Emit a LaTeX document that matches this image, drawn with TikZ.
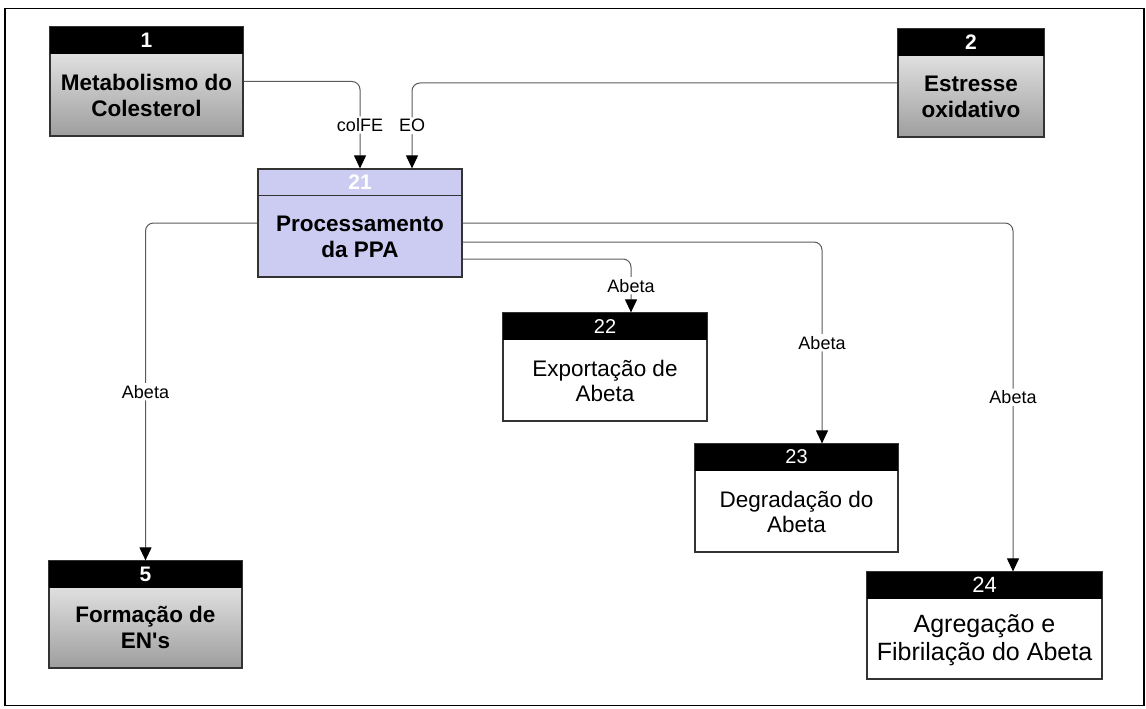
\documentclass[tikz,border=0pt]{standalone}
\usepackage{fontspec}
\setmainfont{Liberation Sans}
\usetikzlibrary{positioning,arrows.meta}

\definecolor{ppablue}{RGB}{204,204,242}
\definecolor{ppagrid}{RGB}{178,178,236}
\definecolor{linegray}{RGB}{90,90,90}

\tikzset{
  box/.style={draw=black!80, line width=1.2pt, inner sep=0pt},
  graybox/.style={box, top color=black!4, bottom color=black!38},
  whitebox/.style={box, fill=white},
  hdr/.style={anchor=north, fill=black, text=white, inner sep=0pt, minimum height=27pt,
    font=\fontsize{20}{20}\selectfont},
  hdrbold/.style={hdr, font=\fontsize{21}{21}\selectfont\bfseries},
  bodybold/.style={align=center, font=\fontsize{22.5}{26}\selectfont\bfseries},
  bodyreg/.style={align=center, font=\fontsize{22.5}{25}\selectfont},
  flow/.style={draw=linegray, line width=1pt, rounded corners=8pt,
    -{Triangle[length=13pt,width=12pt,color=black]}},
  tag/.style={fill=white, inner sep=2pt, pos=0.75, font=\fontsize{18}{18}\selectfont},
}

\begin{document}
\begin{tikzpicture}[x=1pt,y=-1pt]
  \useasboundingbox (0,0) rectangle (1146,709);
  \draw[line width=1.6pt] (5,8.5) rectangle (1144,705.5);

  % inputs
  \node[graybox, minimum width=193pt, minimum height=109pt] (met) at (146.5,81.5) {};
  \node[hdrbold, minimum width=193pt] (met-h) at (met.north) {1};
  \node[bodybold] (met-t) at (146.5,95.5) {Metabolismo do\\Colesterol};

  \node[graybox, minimum width=146pt, minimum height=108pt] (est) at (971,83) {};
  \node[hdrbold, minimum width=146pt] (est-h) at (est.north) {2};
  \node[bodybold] (est-t) at (971,96.5) {Estresse\\oxidativo};

  % the process itself
  \node[box, fill=ppablue, minimum width=204pt, minimum height=108pt,
    path picture={
      \foreach \gx in {30,88,146,175}
        \draw[ppagrid, line width=0.5pt] (258+\gx,169) -- (258+\gx,277);
      \foreach \gy in {58,85}
        \draw[ppagrid, line width=0.5pt] (258,169+\gy) -- (462,169+\gy);
    }] (ppa) at (360,223) {};
  \node[hdrbold, fill=none, minimum width=204pt] (ppa-h) at (ppa.north) {21};
  \draw[black!80, line width=1.2pt] (ppa-h.south west) -- (ppa-h.south east);
  \node[bodybold] (ppa-t) at (360,236.5) {Processamento\\da PPA};

  % outputs
  \node[graybox, minimum width=193pt, minimum height=107pt] (enf) at (145.5,614.5) {};
  \node[hdrbold, minimum width=193pt] (enf-h) at (enf.north) {5};
  \node[bodybold] (enf-t) at (145.5,627.5) {Formação de\\EN\textquotesingle s};

  \node[whitebox, minimum width=204pt, minimum height=108pt] (exp) at (605,367) {};
  \node[hdr, minimum width=204pt] (exp-h) at (exp.north) {22};
  \node[bodyreg] (exp-t) at (605,381) {Exportação de\\Abeta};

  \node[whitebox, minimum width=203pt, minimum height=108pt] (deg) at (796.5,498) {};
  \node[hdr, minimum width=203pt] (deg-h) at (deg.north) {23};
  \node[bodyreg] (deg-t) at (796.5,512) {Degradação do\\Abeta};

  \node[whitebox, minimum width=235pt, minimum height=107pt] (agr) at (984.5,625.5) {};
  \node[hdr, minimum width=235pt, font=\fontsize{22}{22}\selectfont] (agr-h) at (agr.north) {24};
  \node[bodyreg, font=\fontsize{25}{28}\selectfont] (agr-t) at (984.5,640) {Agregação e\\Fibrilação do Abeta};

  % flows
  \draw[flow] (met.east) -| node[tag] {colFE} (ppa.north);
  \draw[flow] (est.west) -| node[tag] {EO} ([xshift=52pt]ppa.north);
  \draw[flow] (ppa.west) -| node[tag] {Abeta} (enf.north);
  \draw[flow] ([yshift=-36pt]ppa.east) -| node[tag] {Abeta} ([xshift=26pt]exp.north);
  \draw[flow] ([yshift=-19pt]ppa.east) -| node[tag] {Abeta} ([xshift=25.5pt]deg.north);
  \draw[flow] (ppa.east) -| node[tag] {Abeta} ([xshift=28.5pt]agr.north);
\end{tikzpicture}
\end{document}
